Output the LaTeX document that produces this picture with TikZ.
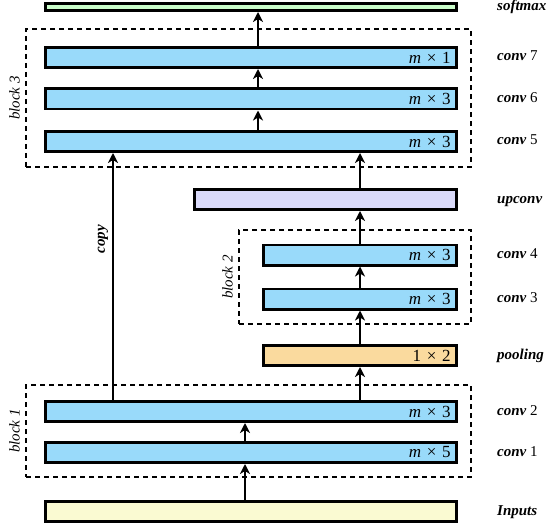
\documentclass[tikz,border=0pt]{standalone}
\usepackage{fontspec}
\setmainfont{Liberation Serif}
\usetikzlibrary{arrows.meta}

\definecolor{convblue}{RGB}{153,218,250}
\definecolor{softgreen}{RGB}{204,255,204}
\definecolor{uplilac}{RGB}{218,218,250}
\definecolor{poolorange}{RGB}{250,218,158}
\definecolor{inputyellow}{RGB}{250,250,210}

\begin{document}
\begin{tikzpicture}
        [x=1pt,y=-1pt,every node/.style={inner sep=0pt},
         layer/.style={draw,line width=2.8pt,minimum height=20.2pt,inner xsep=6pt,align=right,font=\fontsize{17}{17}\selectfont},
         full/.style={layer,text width=399.2pt},
         half/.style={layer,text width=181.2pt},
         blockbox/.style={draw,line width=2pt,dash pattern=on 5pt off 4pt},
         sidelabel/.style={rotate=90,anchor=south,font=\fontsize{15}{16}\selectfont\itshape},
         rlabel/.style={anchor=west,text height=10pt,text depth=3pt,font=\fontsize{15}{16}\selectfont},
         flow/.style={line width=2.5pt,-{Stealth[length=10pt,width=10pt,inset=3pt]}}]
        \useasboundingbox (0,0) rectangle (546,524);

        %Columns
        \coordinate (colL) at (113,0);
        \coordinate (colM) at (258,0);
        \coordinate (colR) at (360,0);
        \coordinate (colI) at (245,0);
        \coordinate (labx) at (497,0);

        %Blocks
        \node[blockbox,minimum width=445pt,minimum height=138pt] (block3) at (248.5,98) {};
        \node[blockbox,minimum width=232pt,minimum height=94pt]  (block2) at (355,277) {};
        \node[blockbox,minimum width=445pt,minimum height=92pt]  (block1) at (248.5,431) {};

        %Layers
        \node[full,fill=softgreen,minimum height=7.2pt] (softmax) at (251,7) {};
        \node[full,fill=convblue]  (conv7)  at (251,57.5)  {\textit{m} × 1};
        \node[full,fill=convblue]  (conv6)  at (251,99)    {\textit{m} × 3};
        \node[full,fill=convblue]  (conv5)  at (251,141.5) {\textit{m} × 3};
        \node[layer,fill=uplilac,text width=250.2pt] (upconv) at (325.5,199.5) {};
        \node[half,fill=convblue]  (conv4)  at (360,255)   {\textit{m} × 3};
        \node[half,fill=convblue]  (conv3)  at (360,299)   {\textit{m} × 3};
        \node[half,fill=poolorange] (pool)  at (360,355.5) {1 × 2};
        \node[full,fill=convblue]  (conv2)  at (251,411.5) {\textit{m} × 3};
        \node[full,fill=convblue]  (conv1)  at (251,452.5) {\textit{m} × 5};
        \node[full,fill=inputyellow] (inputs) at (251,511.5) {};

        %Block names
        \node[sidelabel] at ([xshift=-5pt]block3.west) {block 3};
        \node[sidelabel] at ([xshift=-5pt]block2.west) {block 2};
        \node[sidelabel] at ([xshift=-5pt]block1.west) {block 1};

        %Layer names
        \node[rlabel] at (softmax.center -| labx) {\textbf{\textit{softmax}}};
        \node[rlabel] at (conv7.center -| labx)   {\textbf{\textit{conv}} 7};
        \node[rlabel] at (conv6.center -| labx)   {\textbf{\textit{conv}} 6};
        \node[rlabel] at (conv5.center -| labx)   {\textbf{\textit{conv}} 5};
        \node[rlabel] at (upconv.center -| labx)  {\textbf{\textit{upconv}}};
        \node[rlabel] at (conv4.center -| labx)   {\textbf{\textit{conv}} 4};
        \node[rlabel] at (conv3.center -| labx)   {\textbf{\textit{conv}} 3};
        \node[rlabel] at (pool.center -| labx)    {\textbf{\textit{pooling}}};
        \node[rlabel] at (conv2.center -| labx)   {\textbf{\textit{conv}} 2};
        \node[rlabel] at (conv1.center -| labx)   {\textbf{\textit{conv}} 1};
        \node[rlabel] at (inputs.center -| labx)  {\textbf{\textit{Inputs}}};

        %Flow
        \draw[flow] (inputs.north -| colI) -- (conv1.south -| colI);
        \draw[flow] (conv1.north -| colI)  -- (conv2.south -| colI);
        \draw[flow] (conv2.north -| colR)  -- (pool.south -| colR);
        \draw[flow] (pool.north -| colR)   -- (conv3.south -| colR);
        \draw[flow] (conv3.north -| colR)  -- (conv4.south -| colR);
        \draw[flow] (conv4.north -| colR)  -- (upconv.south -| colR);
        \draw[flow] (upconv.north -| colR) -- (conv5.south -| colR);
        \draw[flow] (conv5.north -| colM)  -- (conv6.south -| colM);
        \draw[flow] (conv6.north -| colM)  -- (conv7.south -| colM);
        \draw[flow] (conv7.north -| colM)  -- (softmax.south -| colM);
        \draw[flow] (conv2.north -| colL)  -- node[pos=0.65,sidelabel,outer sep=5pt,font=\fontsize{15}{16}\selectfont\bfseries\itshape] {copy} (conv5.south -| colL);
\end{tikzpicture}
\end{document}
